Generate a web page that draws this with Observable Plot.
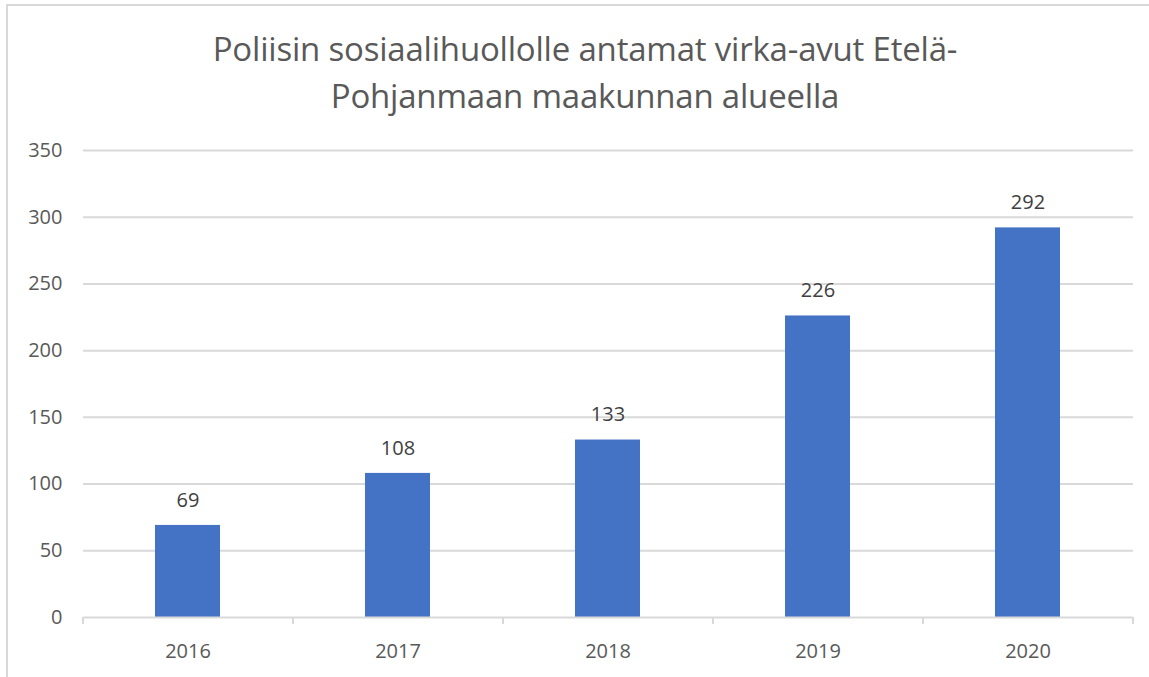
<!DOCTYPE html>
<html>
<head>
<meta charset="utf-8">
<script src="https://cdn.jsdelivr.net/npm/d3@7"></script>
<script src="https://cdn.jsdelivr.net/npm/@observablehq/plot@0.6"></script>
<style>
  html, body { margin: 0; padding: 0; background: #fff; width: 1149px; height: 677px; overflow: hidden; }
  #frame { position: absolute; left: 6px; top: 4px; right: 0; bottom: 0; border-left: 2px solid #d9d9d9; border-top: 2px solid #d9d9d9; }
  #title { position: absolute; left: 0; top: 25px; width: 1170px; text-align: center; font-family: "Open Sans", sans-serif; font-size: 33px; letter-spacing: -0.2px; line-height: 47px; color: #595959; }
  #chart { position: absolute; left: 0; top: 130px; }
</style>
</head>
<body>
<div id="frame"></div>
<div id="title">Poliisin sosiaalihuollolle antamat virka-avut Etelä-<br>Pohjanmaan maakunnan alueella</div>
<div id="chart"></div>
<script>
const years = ["2016", "2017", "2018", "2019", "2020"];
const values = [69, 108, 133, 226, 292];
const yTicks = [0, 50, 100, 150, 200, 250, 300, 350];

const data = years.map((year, i) => ({year, value: values[i]}));
const step = 1050 / years.length;

const plot = Plot.plot({
  width: 1149,
  height: 547,
  marginTop: 20,
  marginLeft: 83,
  marginRight: 16,
  marginBottom: 60,
  style: {fontFamily: "Open Sans, sans-serif", fontSize: "20px", color: "#595959", background: "transparent"},
  x: {domain: years, paddingInner: 0.69, paddingOuter: 0.345, align: 0.5, axis: null, label: null},
  y: {domain: [0, 350], axis: null, label: null},
  marks: [
    Plot.ruleY(yTicks.filter(d => d > 0), {stroke: "#d9d9d9", strokeWidth: 2}),
    Plot.barY(data, {x: "year", y: "value", fill: "#4472c4"}),
    Plot.ruleY([0], {stroke: "#d9d9d9", strokeWidth: 2}),
    Plot.ruleX(years, {x: d => d, y1: 0, y2: 0, dx: -step / 2, insetBottom: -7, stroke: "#d9d9d9", strokeWidth: 2}),
    Plot.ruleX(years.slice(-1), {x: d => d, y1: 0, y2: 0, dx: step / 2, insetBottom: -7, stroke: "#d9d9d9", strokeWidth: 2}),
    Plot.text(data, {x: "year", y: "value", text: d => String(d.value), dy: -25, fill: "#404040", fontSize: 20}),
    Plot.axisY({ticks: yTicks, tickSize: 0, tickPadding: 21, fontSize: 20, fill: "#595959", label: null}),
    Plot.axisX({tickSize: 0, tickPadding: 26, fontSize: 20, fill: "#595959", label: null})
  ]
});
document.getElementById("chart").appendChild(plot);
</script>
</body>
</html>
